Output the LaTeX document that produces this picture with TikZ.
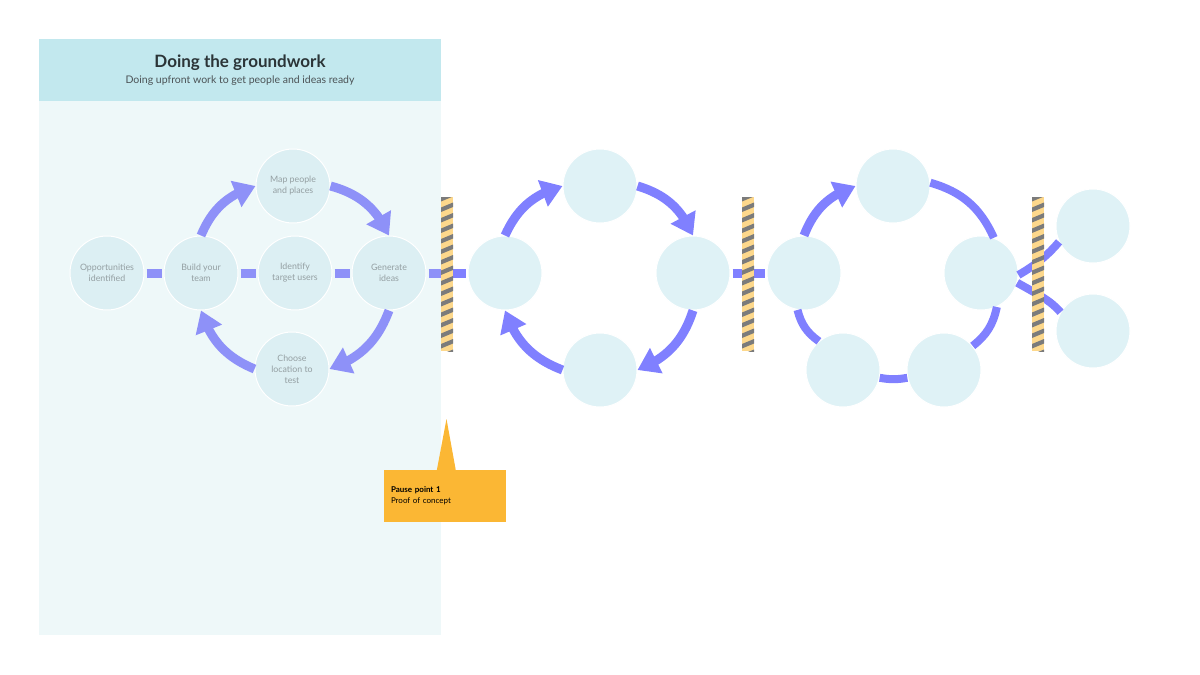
\documentclass[tikz,border=0pt]{standalone}
\usepackage{fontspec}
\setmainfont{Lato}
\usepackage{tikz}
\usetikzlibrary{arrows.meta,bending,calc,positioning}
\definecolor{gwpanel}{HTML}{EEF8F9}
\definecolor{gwhead}{HTML}{C2E8EE}
\definecolor{gwcircle}{HTML}{DFF2F6}
\definecolor{gwcirclefaint}{HTML}{DCEFF3}
\definecolor{gwarrow}{HTML}{8080FF}
\definecolor{gwarrowfaint}{HTML}{8E91F8}
\definecolor{gwtext}{HTML}{949FA2}
\definecolor{gwtitle}{HTML}{2B3437}
\definecolor{gworange}{HTML}{FBB734}
\definecolor{gwyellow}{HTML}{FDD88C}
\definecolor{gwgray}{HTML}{7B7B7B}
\tikzstyle{stage} = [circle, minimum size=74pt, inner sep=0pt, fill=gwcircle, draw=white, line width=1pt, align=center, font=\fontsize{8.8}{11}\selectfont, text=gwtext]
\tikzstyle{faint} = [fill=gwcirclefaint]
\tikzstyle{link} = [line width=9pt, color=gwarrow, shorten <=2pt, shorten >=2pt]
\tikzstyle{cyclearrow} = [line width=9pt, color=gwarrow, -{Triangle[width=27pt,length=21pt]}]
\tikzstyle{ringarc} = [line width=8pt, color=gwarrow]
\tikzstyle{barrier} = [rectangle, minimum width=12pt, minimum height=154pt, inner sep=0pt, fill=gwyellow,
  path picture={\foreach \k in {-1,...,15} \fill[gwgray] ($(path picture bounding box.north west)+(0,\k*10.5)$) -- ++(12,-5) -- ++(0,4.5) -- ++(-12,5) -- cycle;}]
\tikzstyle{pausebox} = [rectangle, fill=gworange, minimum width=122pt, minimum height=52pt, text width=108pt, align=left, inner sep=0pt, font=\fontsize{8}{11}\selectfont]

\begin{document}
\begin{tikzpicture}[x=1pt, y=-1pt]
\useasboundingbox (0,0) rectangle (1200,675);
\fill[white] (0,0) rectangle (1200,675);

% Groundwork panel
\fill[gwpanel] (39,39) rectangle (441,635);
\fill[gwhead] (39,39) rectangle (441,101);
\node[font=\bfseries\fontsize{17}{20}\selectfont, text=gwtitle] (title) at (240,63) {Doing the groundwork};
\node[font=\fontsize{10.5}{13}\selectfont, text=gwtitle!85] (subtitle) at (240,81) {Doing upfront work to get people and ideas ready};

% Stage 1
\node[stage, faint] (opp) at (107,273) {Opportunities\\identified};
\node[stage, faint] (build) at (201,273) {Build your\\team};
\node[stage, faint] (target) at (295,273) {Identify\\target users};
\node[stage, faint] (gen) at (389,273) {Generate\\ideas};
\node[stage, faint] (map) at (293,186) {Map people\\and places};
\node[stage, faint] (choose) at (292,369) {Choose\\location to\\test};

\draw[link, color=gwarrowfaint] (opp) -- (build);
\draw[link, color=gwarrowfaint] (build) -- (target);
\draw[link, color=gwarrowfaint] (target) -- (gen);
\draw[cyclearrow, color=gwarrowfaint] (build.north) to[bend left=25] (map.west);
\draw[cyclearrow, color=gwarrowfaint] (map.east) to[bend left=25] (gen.north);
\draw[cyclearrow, color=gwarrowfaint] (gen.south) to[bend left=25] (choose.east);
\draw[cyclearrow, color=gwarrowfaint] (choose.west) to[bend left=25] (build.south);

% Stage 2
\node[stage] (g2l) at (505,273) {};
\node[stage] (g2t) at (600,186) {};
\node[stage] (g2r) at (693,273) {};
\node[stage] (g2b) at (600,370) {};

\begin{scope}
\clip (0,0) rectangle (441,675);
\draw[link, color=gwarrowfaint] (gen) -- (g2l);
\end{scope}
\begin{scope}
\clip (441,0) rectangle (1200,675);
\draw[link] (gen) -- (g2l);
\end{scope}
\draw[cyclearrow] (g2l.north) to[bend left=25] (g2t.west);
\draw[cyclearrow] (g2t.east) to[bend left=25] (g2r.north);
\draw[cyclearrow] (g2r.south) to[bend left=25] (g2b.east);
\draw[cyclearrow] (g2b.west) to[bend left=25] (g2l.south);

% Stage 3
\node[stage] (g3l) at (804,273) {};
\node[stage] (g3t) at (893,186) {};
\node[stage] (g3r) at (981,273) {};
\node[stage] (g3br) at (944,370) {};
\node[stage] (g3bl) at (843,370) {};

\draw[link] (g2r) -- (g3l);
\draw[cyclearrow] (g3l.north) to[bend left=25] (g3t.west);
\draw[ringarc] (g3t.5) to[bend left=25] (g3r.70);
\draw[ringarc] (g3r.-65) to[bend left=20] (g3br.40);
\draw[ringarc] (g3br.192) to[bend left=10] (g3bl.-12);
\draw[ringarc] (g3bl.130) to[bend left=20] (g3l.260);

% Stage 4
\node[stage] (g4a) at (1093,226) {};
\node[stage] (g4b) at (1093,331) {};

\draw[ringarc] (g3r.-3) .. controls +(30:22pt) and +(230:16pt) .. (g4a.205);
\draw[ringarc] (g3r.-15) .. controls +(-30:22pt) and +(130:16pt) .. (g4b.150);

% Pause points
\node[barrier] (bar1) at (447,274) {};
\node[barrier] (bar2) at (748,274) {};
\node[barrier] (bar3) at (1038,274) {};

\node[pausebox] (pause) at (445,496) {\textbf{Pause point 1}\\Proof of concept};
\coordinate (pausetip) at (446.5,419);
\fill[gworange] ($(pause.north west)+(53,0.5)$) -- (pausetip) -- ($(pause.north west)+(72,0.5)$) -- cycle;
\end{tikzpicture}
\end{document}
